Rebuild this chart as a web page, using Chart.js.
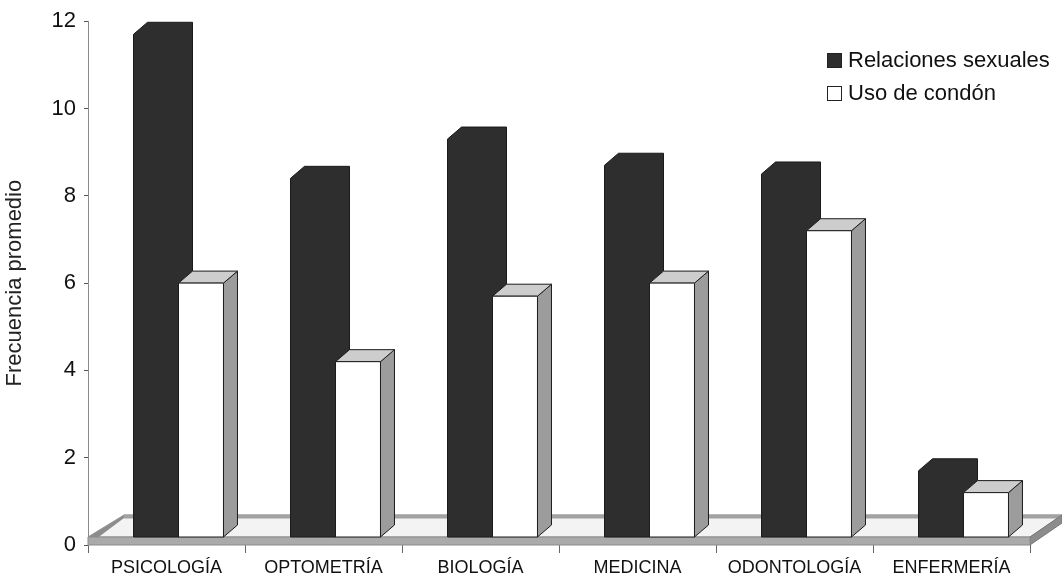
<!DOCTYPE html>
<html>
<head>
<meta charset="utf-8">
<script src="https://cdn.jsdelivr.net/npm/chart.js@4.4.1/dist/chart.umd.min.js"></script>
<style>
  html, body { margin: 0; padding: 0; background: #ffffff; }
  #wrap { width: 1062px; height: 577px; }
</style>
</head>
<body>
<div id="wrap"><canvas id="chart" width="1062" height="577"></canvas></div>
<script>
// Frecuencia promedio por carrera
const categories = ['PSICOLOGÍA', 'OPTOMETRÍA', 'BIOLOGÍA', 'MEDICINA', 'ODONTOLOGÍA', 'ENFERMERÍA'];
const relacionesSexuales = [11.7, 8.4, 9.3, 8.7, 8.5, 1.7];
const usoCondon = [6.0, 4.2, 5.7, 6.0, 7.2, 1.2];
const seriesLabels = ['Relaciones sexuales', 'Uso de condón'];
const yTicks = [0, 2, 4, 6, 8, 10, 12];

const FONT = '"Liberation Sans", Arial, Helvetica, sans-serif';

// 3D projection of the bars and the floor slab
const DEPTH_X = 14, DEPTH_Y = 12;     // bar depth
const BAR_SHIFT_X = 12;               // bars sit part-way into the floor
const FLOOR_LIFT = 8;                 // floor front-face thickness
const FLOOR_DX = 32, FLOOR_DY = 22;   // floor depth

const COLORS = {
  dark: '#2e2e2e',
  darkEdge: '#1a1a1a',
  front: '#ffffff',
  top: '#cdcdcd',
  side: '#9c9c9c',
  edge: '#1c1c1c',
  floorTop: '#f3f3f3',
  floorBack: '#a2a2a2',
  floorFront: '#aaaaaa',
  floorSide: '#8c8c8c'
};

function poly(ctx, pts, fill, stroke, lw) {
  ctx.beginPath();
  ctx.moveTo(pts[0][0], pts[0][1]);
  for (let i = 1; i < pts.length; i++) ctx.lineTo(pts[i][0], pts[i][1]);
  ctx.closePath();
  if (fill) { ctx.fillStyle = fill; ctx.fill(); }
  if (stroke) { ctx.strokeStyle = stroke; ctx.lineWidth = lw || 1; ctx.stroke(); }
}

const bars3d = {
  id: 'bars3d',
  beforeDatasetsDraw(chart) {
    const ctx = chart.ctx;
    const a = chart.chartArea;
    const L = a.left, R = a.right, yb = a.bottom, yt = a.bottom - FLOOR_LIFT;
    ctx.save();
    // floor top surface
    poly(ctx, [[L, yt], [R, yt], [R + FLOOR_DX, yt - FLOOR_DY], [L + FLOOR_DX + 4, yt - FLOOR_DY]], COLORS.floorTop, '#9a9a9a', 1);
    // back edge of the floor
    ctx.beginPath();
    ctx.moveTo(L + FLOOR_DX + 4, yt - FLOOR_DY + 1.5);
    ctx.lineTo(R + FLOOR_DX, yt - FLOOR_DY + 1.5);
    ctx.strokeStyle = COLORS.floorBack; ctx.lineWidth = 4; ctx.stroke();
    // left bevel
    poly(ctx, [[L, yb], [L, yt], [L + FLOOR_DX + 4, yt - FLOOR_DY], [L + FLOOR_DX + 4, yt - FLOOR_DY + 3]], COLORS.floorSide, null);
    // right side and front faces
    poly(ctx, [[R, yt], [R + FLOOR_DX, yt - FLOOR_DY], [R + FLOOR_DX, yt - FLOOR_DY + FLOOR_LIFT], [R, yb]], COLORS.floorSide, '#777', 1);
    poly(ctx, [[L, yt], [R, yt], [R, yb], [L, yb]], COLORS.floorFront, '#8a8a8a', 1);
    ctx.restore();
  },
  afterDatasetsDraw(chart) {
    const ctx = chart.ctx;
    const yScale = chart.scales.y;
    const yBase = yScale.getPixelForValue(0) - FLOOR_LIFT;
    const m0 = chart.getDatasetMeta(0), m1 = chart.getDatasetMeta(1);
    ctx.save();
    ctx.lineJoin = 'miter';
    for (let i = 0; i < categories.length; i++) {
      // dark column: front, top and side share one fill
      let el = m0.data[i];
      let x0 = el.x - el.width / 2 + BAR_SHIFT_X, x1 = el.x + el.width / 2 + BAR_SHIFT_X, y = el.y;
      poly(ctx, [[x0, yBase], [x0, y], [x0 + DEPTH_X, y - DEPTH_Y], [x1 + DEPTH_X, y - DEPTH_Y],
                 [x1 + DEPTH_X, yBase - DEPTH_Y], [x1, yBase]], COLORS.dark, COLORS.darkEdge, 1);
      // white column
      el = m1.data[i];
      x0 = el.x - el.width / 2 + BAR_SHIFT_X; x1 = el.x + el.width / 2 + BAR_SHIFT_X; y = el.y;
      poly(ctx, [[x1, y], [x1 + DEPTH_X, y - DEPTH_Y], [x1 + DEPTH_X, yBase - DEPTH_Y], [x1, yBase]], COLORS.side, COLORS.edge, 1);
      poly(ctx, [[x0, y], [x0 + DEPTH_X, y - DEPTH_Y], [x1 + DEPTH_X, y - DEPTH_Y], [x1, y]], COLORS.top, COLORS.edge, 1);
      poly(ctx, [[x0, y], [x1, y], [x1, yBase], [x0, yBase]], COLORS.front, COLORS.edge, 1);
    }
    ctx.restore();
  },
  afterDraw(chart) {
    // legend in the upper right of the plot
    const ctx = chart.ctx;
    const ds = chart.data.datasets;
    const x = 827, rows = [60, 93], box = 14;
    ctx.save();
    ctx.font = '22px ' + FONT;
    ctx.textBaseline = 'middle';
    ctx.textAlign = 'left';
    ds.forEach((d, i) => {
      const cy = rows[i];
      ctx.fillStyle = i === 0 ? COLORS.dark : '#ffffff';
      ctx.fillRect(x + 0.5, cy - box / 2 + 0.5, box, box);
      ctx.strokeStyle = '#222';
      ctx.lineWidth = 1;
      ctx.strokeRect(x + 0.5, cy - box / 2 + 0.5, box, box);
      ctx.fillStyle = '#111';
      ctx.fillText(d.label, x + 21, cy + 1);
    });
    ctx.restore();
  }
};

new Chart(document.getElementById('chart'), {
  type: 'bar',
  data: {
    labels: categories,
    datasets: [
      { label: seriesLabels[0], data: relacionesSexuales, backgroundColor: 'rgba(0,0,0,0)', borderWidth: 0,
        categoryPercentage: 0.573, barPercentage: 1 },
      { label: seriesLabels[1], data: usoCondon, backgroundColor: 'rgba(0,0,0,0)', borderWidth: 0,
        categoryPercentage: 0.573, barPercentage: 1 }
    ]
  },
  options: {
    responsive: false,
    animation: false,
    devicePixelRatio: 1,
    layout: { padding: { top: 20, right: 32, left: 0, bottom: 0 } },
    plugins: { legend: { display: false }, tooltip: { enabled: false }, title: { display: false } },
    scales: {
      x: {
        afterFit(scale) { scale.height = 32; },
        border: { display: false },
        grid: { display: true, drawOnChartArea: false, drawTicks: true, tickLength: 8, offset: true, color: '#666' },
        ticks: { color: '#111', font: { family: FONT, size: 18 }, padding: 4, maxRotation: 0, autoSkip: false }
      },
      y: {
        min: 0, max: 12,
        afterFit(scale) { scale.width = 88; },
        afterBuildTicks(scale) { scale.ticks = yTicks.map(v => ({ value: v })); },
        border: { display: true, color: '#8a8a8a', width: 1 },
        grid: { display: true, drawOnChartArea: false, drawTicks: true, tickLength: 4, color: '#555' },
        ticks: { color: '#111', font: { family: FONT, size: 22 }, padding: 8 },
        title: { display: true, text: 'Frecuencia promedio', color: '#222', font: { family: FONT, size: 22 },
                 padding: { top: 2, bottom: 0 } }
      }
    }
  },
  plugins: [bars3d]
});
</script>
</body>
</html>
